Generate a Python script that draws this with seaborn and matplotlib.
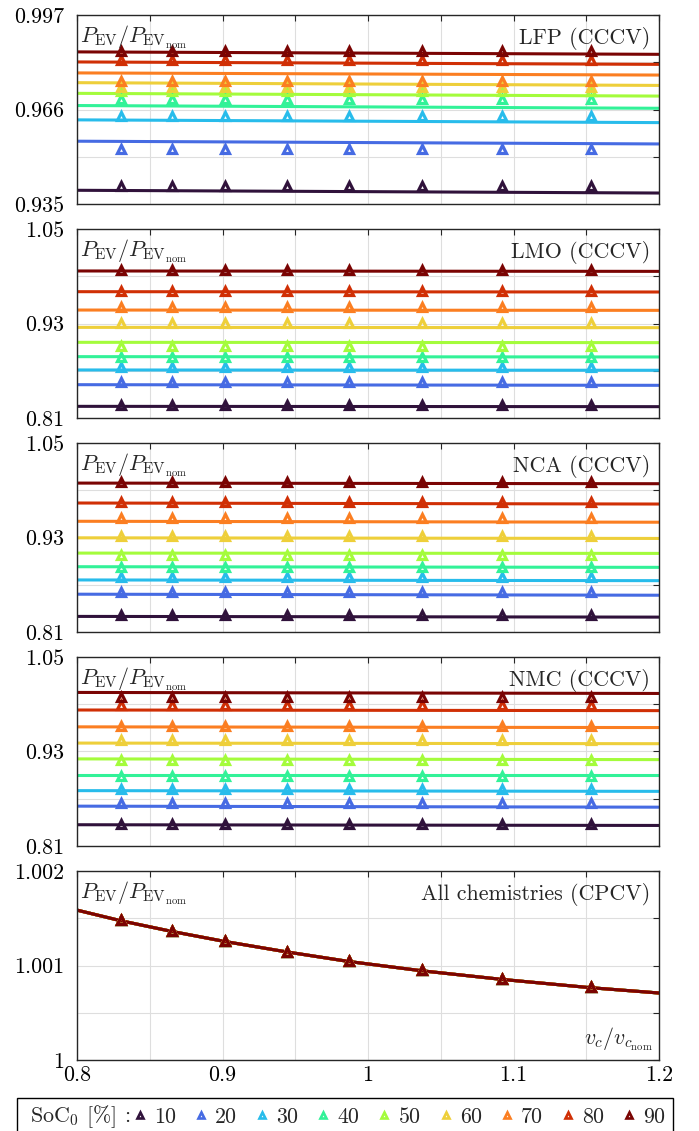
import numpy as np
import pandas as pd
import matplotlib
matplotlib.use("Agg")
import matplotlib.pyplot as plt
import seaborn as sns
from matplotlib.patches import Rectangle
from matplotlib.lines import Line2D
from matplotlib.ticker import FixedLocator, FixedFormatter

# ---------------- data ----------------
soc_levels = [10, 20, 30, 40, 50, 60, 70, 80, 90]
vc_points = [0.830, 0.865, 0.902, 0.944, 0.987, 1.037, 1.092, 1.153]
line_x = [0.8, 1.2]

# LFP (CCCV)
lfp_line_start = [0.9395, 0.9556, 0.9626, 0.9673, 0.9713, 0.9748, 0.9780, 0.9816, 0.9849]
lfp_line_end = [0.9386, 0.9547, 0.9617, 0.9664, 0.9704, 0.9739, 0.9773, 0.9808, 0.9841]
lfp_markers = [0.9410, 0.9532, 0.9640, 0.9695, 0.9722, 0.9733, 0.9752, 0.9824, 0.9853]

# LMO (CCCV)
lmo_line_start = [0.8248, 0.8523, 0.8710, 0.8879, 0.9061, 0.9251, 0.9471, 0.9704, 0.9967]
lmo_line_end = [0.8244, 0.8515, 0.8706, 0.8875, 0.9057, 0.9247, 0.9467, 0.9700, 0.9962]
lmo_markers = [0.8265, 0.8561, 0.8752, 0.8870, 0.9019, 0.9302, 0.9505, 0.9717, 0.9979]

# NCA (CCCV)
nca_line_start = [0.8298, 0.8580, 0.8761, 0.8929, 0.9102, 0.9296, 0.9506, 0.9738, 0.9991]
nca_line_end = [0.8289, 0.8567, 0.8752, 0.8921, 0.9098, 0.9288, 0.9494, 0.9725, 0.9983]
nca_markers = [0.8311, 0.8609, 0.8795, 0.8921, 0.9073, 0.9325, 0.9544, 0.9746, 0.9999]

# NMC (CCCV)
nmc_line_start = [0.8370, 0.8606, 0.8803, 0.9000, 0.9206, 0.9407, 0.9613, 0.9827, 1.0050]
nmc_line_end = [0.8361, 0.8593, 0.8794, 0.9000, 0.9197, 0.9399, 0.9604, 0.9819, 1.0037]
nmc_markers = [0.8380, 0.8650, 0.8830, 0.8990, 0.9190, 0.9450, 0.9630, 0.9887, 0.9994]

# All chemistries (CPCV) - identical for every SoC0
cpcv_line_x = [0.8, 0.830, 0.865, 0.902, 0.944, 0.987, 1.037, 1.092, 1.153, 1.2]
cpcv_line_y = [1.001586, 1.001474, 1.001361, 1.001253, 1.001144, 1.001042,
               1.000944, 1.000853, 1.000765, 1.000709]
cpcv_markers = [1.001481, 1.001368, 1.001260, 1.001147, 1.001049, 1.000951,
                1.000860, 1.000772]

x_ticks = [0.8, 0.85, 0.9, 0.95, 1.0, 1.05, 1.1, 1.15, 1.2]
x_ticklabels = ["0.8", "", "0.9", "", "1", "", "1.1", "", "1.2"]

lfp_yticks = [0.935, 0.9505, 0.966, 0.9815, 0.997]
lfp_yticklabels = ["0.935", "", "0.966", "", "0.997"]
cccv_yticks = [0.81, 0.87, 0.93, 0.99, 1.05]
cccv_yticklabels = ["0.81", "", "0.93", "", "1.05"]
cpcv_yticks = [1.0, 1.0005, 1.001, 1.0015, 1.002]
cpcv_yticklabels = ["1", "", "1.001", "", "1.002"]

titles = ["LFP (CCCV)", "LMO (CCCV)", "NCA (CCCV)", "NMC (CCCV)", "All chemistries (CPCV)"]

# ---------------- style ----------------
sns.set_style("white")
plt.rcParams.update({
    "font.family": ["cmr10"],
    "mathtext.fontset": "cm",
    "axes.unicode_minus": False,
    "axes.formatter.use_mathtext": True,
})
FS = 15.8
colors = [plt.get_cmap("turbo")(v) for v in np.linspace(0, 1, len(soc_levels))]

W, H = 699, 1131
fig = plt.figure(figsize=(W / 100, H / 100), dpi=100)
left_px, right_px = 77, 659
tops = [15, 229, 443, 657, 871]
ph = 189
axes = [fig.add_axes([left_px / W, 1 - (t + ph) / H, (right_px - left_px) / W, ph / H]) for t in tops]

panels = [
    (lfp_line_start, lfp_line_end, lfp_markers, lfp_yticks, lfp_yticklabels),
    (lmo_line_start, lmo_line_end, lmo_markers, cccv_yticks, cccv_yticklabels),
    (nca_line_start, nca_line_end, nca_markers, cccv_yticks, cccv_yticklabels),
    (nmc_line_start, nmc_line_end, nmc_markers, cccv_yticks, cccv_yticklabels),
]

MS, MEW = 5.5, 2.3

def style_axis(ax, yticks, yticklabels, show_x):
    ax.set_xlim(0.8, 1.2)
    ax.set_ylim(yticks[0], yticks[-1])
    ax.xaxis.set_major_locator(FixedLocator(x_ticks))
    ax.xaxis.set_major_formatter(FixedFormatter(x_ticklabels if show_x else [""] * len(x_ticks)))
    ax.yaxis.set_major_locator(FixedLocator(yticks))
    ax.yaxis.set_major_formatter(FixedFormatter(yticklabels))
    ax.tick_params(axis="both", direction="in", length=4.5, width=0.8, top=True, right=True,
                   labelsize=FS, color="#262626", labelcolor="black")
    ax.tick_params(axis="y", pad=9)
    ax.tick_params(axis="x", pad=4)
    ax.grid(True, color="#dedede", lw=0.8)
    ax.set_axisbelow(True)
    for s in ax.spines.values():
        s.set_color("#262626")
        s.set_linewidth(1.0)
    ax.set_xlabel("")
    ax.set_ylabel("")

for ax, (ls, le, mk, yt, ytl), title in zip(axes[:4], panels, titles[:4]):
    for i, c in enumerate(colors):
        df = pd.DataFrame({"x": line_x, "y": [ls[i], le[i]]})
        sns.lineplot(data=df, x="x", y="y", ax=ax, color=c, lw=2.2, legend=False, zorder=2)
    for i, c in enumerate(colors):
        dm = pd.DataFrame({"x": vc_points, "y": [mk[i]] * len(vc_points)})
        sns.lineplot(data=dm, x="x", y="y", ax=ax, color=c, linestyle="none", marker="^",
                     markersize=MS, markerfacecolor="none", markeredgecolor=c,
                     markeredgewidth=MEW, legend=False, zorder=3)
    style_axis(ax, yt, ytl, False)
    ax.text(0.985, 0.935, title, transform=ax.transAxes, ha="right", va="top", fontsize=FS)

ax5 = axes[4]
for i, c in enumerate(colors):
    df = pd.DataFrame({"x": cpcv_line_x, "y": cpcv_line_y})
    sns.lineplot(data=df, x="x", y="y", ax=ax5, color=c, lw=2.2, legend=False, zorder=2)
for i, c in enumerate(colors):
    dm = pd.DataFrame({"x": vc_points, "y": cpcv_markers})
    sns.lineplot(data=dm, x="x", y="y", ax=ax5, color=c, linestyle="none", marker="^",
                 markersize=MS, markerfacecolor="none", markeredgecolor=c,
                 markeredgewidth=MEW, legend=False, zorder=3)
style_axis(ax5, cpcv_yticks, cpcv_yticklabels, True)
ax5.text(0.985, 0.935, titles[4], transform=ax5.transAxes, ha="right", va="top", fontsize=FS)
ax5.text(0.99, 0.035, r"$v_c/v_{c_{\mathrm{nom}}}$", transform=ax5.transAxes,
         ha="right", va="bottom", fontsize=FS)

for ax in axes:
    ax.text(0.006, 0.955, r"$P_{\mathrm{EV}}/P_{\mathrm{EV}_{\mathrm{nom}}}$", transform=ax.transAxes,
            ha="left", va="top", fontsize=FS)

# ---------------- legend ----------------
handles = [Line2D([], [], ls="none", marker="^", ms=5, mfc="none", mec=c, mew=1.9) for c in colors]
labels = [str(s) for s in soc_levels]
fig.legend(handles, labels, loc="center left", bbox_to_anchor=(131 / W, 1 - 1117 / H), ncol=9,
           frameon=False, handlelength=0.8, handletextpad=0.25, columnspacing=0.735,
           borderpad=0, borderaxespad=0, fontsize=FS)
fig.text(30.4 / W, 1 - 1117 / H, "SoC$_0$ [%] :", ha="left", va="center", fontsize=FS)
fig.add_artist(Rectangle((17 / W, -0.01), 656 / W, 0.01 + (1 - 1097.7 / H),
                         transform=fig.transFigure, fill=False, ec="black", lw=1.0))

fig.savefig("out.png", dpi=100)
